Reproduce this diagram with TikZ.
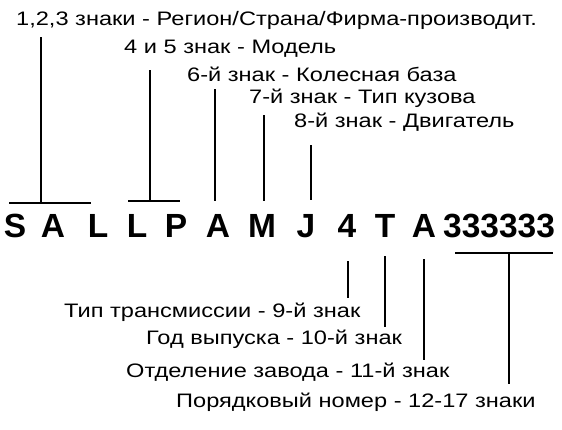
\documentclass[tikz,border=0pt]{standalone}
\usepackage{fontspec}
\setmainfont{Liberation Sans}
\newcommand\wlbl[1]{\scalebox{1.21}[1]{#1}}
\begin{document}
\begin{tikzpicture}[x=1pt,y=-1pt,
  lbl/.style={anchor=base west,inner sep=0pt,font=\fontsize{19.5}{19.5}\selectfont},
  big/.style={anchor=base,inner sep=0pt,font=\fontsize{33.5}{33.5}\selectfont\bfseries},
  bigw/.style={anchor=base west,inner sep=0pt,font=\fontsize{33.5}{33.5}\selectfont\bfseries},
  conn/.style={line width=1.2pt}]
\useasboundingbox[fill=white] (0,0) rectangle (562,429);
% top labels
\node[lbl] (t1) at (16,25) {\wlbl{1,2,3 знаки - Регион/Страна/Фирма-производит.}};
\node[lbl] (t2) at (124,53) {\wlbl{4 и 5 знак - Модель}};
\node[lbl] (t3) at (187,81) {\wlbl{6-й знак - Колесная база}};
\node[lbl] (t4) at (249,103) {\wlbl{7-й знак - Тип кузова}};
\node[lbl] (t5) at (294,127) {\wlbl{8-й знак - Двигатель}};
% VIN characters
\node[big] (c1) at (15,237) {S};
\node[big] (c2) at (53,237) {A};
\node[big] (c3) at (98,237) {L};
\node[big] (c4) at (137,237) {L};
\node[big] (c5) at (176,237) {P};
\node[big] (c6) at (218,237) {A};
\node[big] (c7) at (262,237) {M};
\node[big] (c8) at (306,237) {J};
\node[big] (c9) at (347,237) {4};
\node[big] (c10) at (385,237) {T};
\node[big] (c11) at (424,237) {A};
\node[bigw] (c12) at (443,237) {333333};
% bottom labels
\node[lbl] (b1) at (64,317) {\wlbl{Тип трансмиссии - 9-й знак}};
\node[lbl] (b2) at (146,344) {\wlbl{Год выпуска - 10-й знак}};
\node[lbl] (b3) at (126,377) {\wlbl{Отделение завода - 11-й знак}};
\node[lbl] (b4) at (176,407) {\wlbl{Порядковый номер - 12-17 знаки}};
% connector coordinates
\coordinate (u1) at (41,37);   \coordinate (v1) at (41,203);
\coordinate (w1a) at (9,203);  \coordinate (w1b) at (91,203);
\coordinate (u2) at (150,70);  \coordinate (v2) at (150,201);
\coordinate (w2a) at (128,201);\coordinate (w2b) at (180,201);
\coordinate (u3) at (215,89);  \coordinate (v3) at (215,201);
\coordinate (u4) at (264,115); \coordinate (v4) at (264,201);
\coordinate (u5) at (311,145); \coordinate (v5) at (311,200);
\coordinate (d1) at (348,261); \coordinate (e1) at (348,298);
\coordinate (d2) at (385,256); \coordinate (e2) at (385,327);
\coordinate (d3) at (424,259); \coordinate (e3) at (424,360);
\coordinate (h4a) at (455,253);\coordinate (h4b) at (553,253);
\coordinate (d4) at (509,253); \coordinate (e4) at (509,384);
% connectors
\draw[conn] (u1) -- (v1); \draw[conn] (w1a) -- (w1b);
\draw[conn] (u2) -- (v2); \draw[conn] (w2a) -- (w2b);
\draw[conn] (u3) -- (v3);
\draw[conn] (u4) -- (v4);
\draw[conn] (u5) -- (v5);
\draw[conn] (d1) -- (e1);
\draw[conn] (d2) -- (e2);
\draw[conn] (d3) -- (e3);
\draw[conn] (h4a) -- (h4b);
\draw[conn] (d4) -- (e4);
\end{tikzpicture}
\end{document}
